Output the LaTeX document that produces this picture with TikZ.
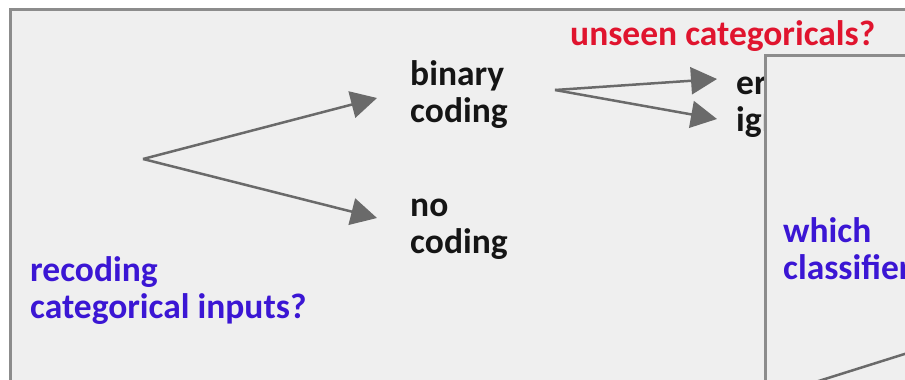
\documentclass[tikz,border=0pt]{standalone}
\usepackage{fontspec}
\setmainfont{Carlito}
\usetikzlibrary{arrows.meta}
\definecolor{bg}{HTML}{EFEFEF}
\definecolor{framegray}{HTML}{8C8C8C}
\definecolor{arrgray}{HTML}{6A6A6A}
\definecolor{qred}{HTML}{E0142E}
\definecolor{qblue}{HTML}{3B16D4}
\definecolor{ink}{HTML}{151515}
\begin{document}
\begin{tikzpicture}[x=1pt,y=-1pt,
  lbl/.style={font=\fontsize{35.5}{37}\selectfont\bfseries, inner sep=0pt, align=left, anchor=base west},
  arr/.style={draw=arrgray, line width=2.5pt, -{Triangle[length=26pt,width=27pt]}}]
\useasboundingbox (0,0) rectangle (905,380);
\fill[white] (0,0) rectangle (905,380);
\draw[fill=bg, draw=framegray, line width=3pt] (10,9) rectangle (940,400);

\node[lbl, text=qred] (unseen) at (570,45) {unseen categoricals?};
\node[lbl, text=ink] (bin) at (410,122) {binary\\coding};
\node[lbl, text=ink] (noc) at (410,253) {no\\coding};
\node[lbl, text=qblue] (rec) at (30,318) {recoding\\categorical inputs?};
\node[lbl, text=ink] (err) at (736,131) {error\\ignore};

\coordinate (src1) at (143,159);
\coordinate (t1) at (377,98);
\coordinate (t2) at (377,218);
\coordinate (src2) at (555,90);
\coordinate (t3) at (717,79);
\coordinate (t4) at (717,119);
\draw[arr] (src1) -- (t1);
\draw[arr] (src1) -- (t2);
\draw[arr] (src2) -- (t3);
\draw[arr] (src2) -- (t4);

\draw[fill=bg, draw=framegray, line width=3pt] (765,55) rectangle (960,420);
\node[lbl, text=qblue] (which) at (783,279) {which\\classifier};
\coordinate (l1) at (790,390);
\coordinate (l2) at (930,346);
\draw[draw=arrgray, line width=2.5pt] (l1) -- (l2);
\end{tikzpicture}
\end{document}
